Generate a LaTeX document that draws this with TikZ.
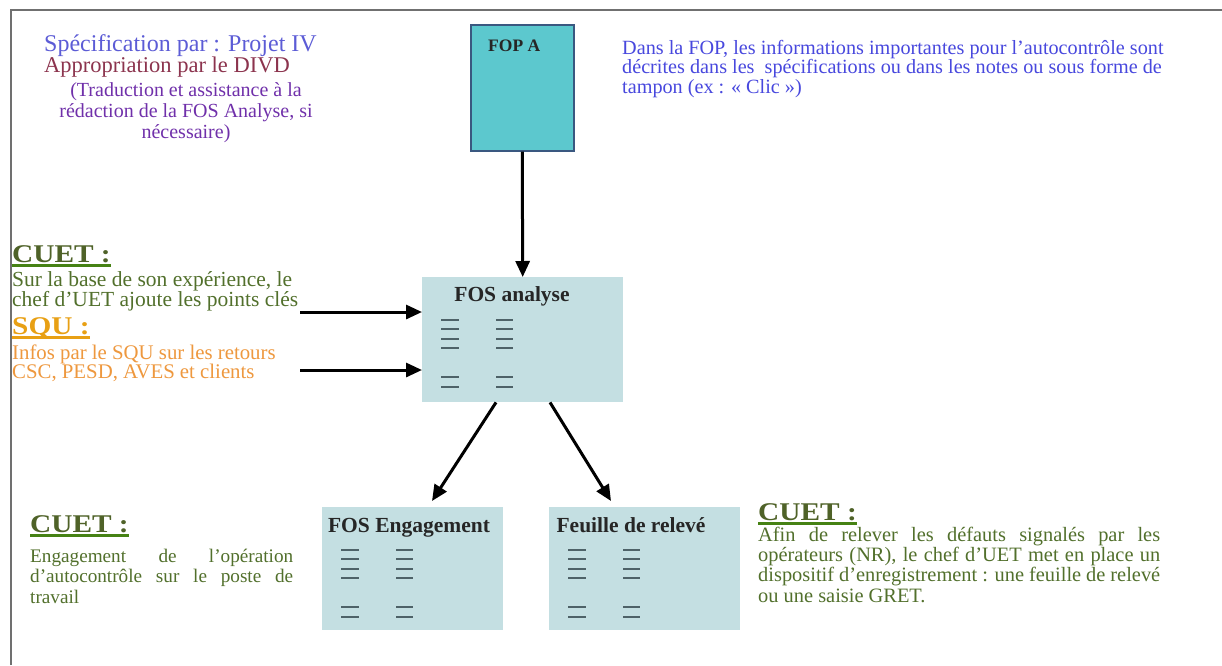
\documentclass[tikz,border=0pt]{standalone}
\usepackage{fontspec}
\setmainfont{Liberation Serif}
\newfontfamily\headfont{Liberation Serif}[FakeStretch=1.15]
\usetikzlibrary{arrows.meta,calc}

\definecolor{specblue}{RGB}{92,92,214}
\definecolor{approred}{RGB}{140,52,78}
\definecolor{noteviolet}{RGB}{112,48,170}
\definecolor{fopblue}{RGB}{72,72,222}
\definecolor{cuetgreen}{RGB}{79,98,40}
\definecolor{cuetline}{RGB}{70,130,20}
\definecolor{cuettext}{RGB}{82,112,44}
\definecolor{squhead}{RGB}{232,160,20}
\definecolor{squtext}{RGB}{238,152,62}
\definecolor{fopfill}{RGB}{92,200,206}
\definecolor{fopedge}{RGB}{58,88,128}
\definecolor{fosfill}{RGB}{196,223,226}
\definecolor{dashcol}{RGB}{78,98,104}
\definecolor{framecol}{RGB}{112,112,112}

% heading with a thick coloured rule beneath it
\newcommand\headrule[3]{\leavevmode\setbox0=\hbox{\color{#2}#3}%
  \rlap{\color{#1}\rule[-4.5pt]{\wd0}{3pt}}\box0}
% one fully justified line of a given width
\newcommand\jline[2]{\hbox to #1{#2}}

\tikzset{
  txt/.style={inner sep=0pt, anchor=base west},
  head/.style={txt, font=\headfont\fontsize{25.5}{28}\selectfont\bfseries},
  sheet/.style={fill=fosfill, draw=none, anchor=north west, inner sep=0pt},
  sheettitle/.style={inner sep=0pt, anchor=base, font=\fontsize{21.5}{24}\selectfont\bfseries, text=black!85},
  flow/.style={line width=3pt, -{Triangle[length=16pt,width=14pt]}},
  rowmark/.style={line width=2pt, dashcol},
}

% the little text marks inside a sheet
\newcommand\sheetmarks[1]{%
  \foreach \r in {43,52,62,71,100,110}{
    \draw[rowmark] ($(#1.north west)+(19,\r)$) -- ($(#1.north west)+(37,\r)$);
    \draw[rowmark] ($(#1.north west)+(74,\r)$) -- ($(#1.north west)+(91,\r)$);
  }}

\begin{document}
\begin{tikzpicture}[x=1pt,y=-1pt]
\useasboundingbox (0,0) rectangle (1222,665);
\fill[white] (0,0) rectangle (1222,665);

% outer frame (left and top edges)
\draw[framecol, line width=2.6pt] (11,665) -- (11,10) -- (1222,10);

% specification block
\node[txt, text=specblue, font=\fontsize{24}{26}\selectfont] (spec) at (44,51) {Spécification par : Projet IV};
\node[txt, text=approred, font=\fontsize{22.5}{26}\selectfont] (appro) at (44,72) {Appropriation par le DIVD};
\node[txt, anchor=base, text=noteviolet, font=\fontsize{20}{21}\selectfont] (note) at (186,96)
  {\parbox[t]{300pt}{\centering (Traduction et assistance à la\\ rédaction de la FOS Analyse, si\\ nécessaire)}};

% FOP A
\node[draw=fopedge, line width=1.5pt, fill=fopfill, anchor=north west, minimum width=103pt, minimum height=126pt, inner sep=0pt] (fop) at (470,24) {};
\node[txt, font=\fontsize{17.5}{20}\selectfont\bfseries, text=black!85] (foptitle) at (488,51) {FOP A};
\node[txt, text=fopblue, font=\fontsize{20.2}{19.7}\selectfont] (fopnote) at (622,54)
  {\parbox[t]{600pt}{\raggedright Dans la FOP, les informations importantes pour l'autocontrôle sont\\ décrites dans les~ spécifications ou dans les notes ou sous forme de\\ tampon (ex : « Clic »)}};

% FOS analyse
\node[sheet, minimum width=201pt, minimum height=125pt] (fos) at (422,277) {};
\node[sheettitle] (fostitle) at (512,301) {FOS analyse};
\sheetmarks{fos}

% CUET input
\node[head] (cuet1) at (12,262) {\headrule{cuetline}{cuetgreen}{CUET :}};
\node[txt, text=cuettext, font=\fontsize{21.5}{20}\selectfont] (cuet1t) at (12,286)
  {\parbox[t]{320pt}{\raggedright Sur la base de son expérience, le\\ chef d'UET ajoute les points clés}};

% SQU input
\node[head] (squ) at (12,334) {\headrule{squhead}{squhead}{SQU :}};
\node[txt, text=squtext, font=\fontsize{20.8}{19.5}\selectfont] (squt) at (12,359)
  {\parbox[t]{320pt}{\raggedright Infos par le SQU sur les retours\\ CSC, PESD, AVES et clients}};

\coordinate (in1) at (300,312);
\coordinate (in2) at (300,370);
\draw[flow] (in1) -- (in1 -| fos.west);
\draw[flow] (in2) -- (in2 -| fos.west);

% output sheets
\node[sheet, minimum width=181pt, minimum height=123pt] (eng) at (322,507) {};
\node[sheettitle] (engtitle) at (409,532) {FOS Engagement};
\sheetmarks{eng}

\node[sheet, minimum width=191pt, minimum height=123pt] (rel) at (549,507) {};
\node[sheettitle] (reltitle) at (631,532) {Feuille de relevé};
\sheetmarks{rel}

% flow arrows
\draw[flow] (fop.south) -- (fos.north);
\draw[flow] ($(fos.south west)+(74,0)$) -- ($(eng.north west)+(110,-6)$);
\draw[flow] ($(fos.south west)+(128,0)$) -- ($(rel.north west)+(62,-6)$);

% CUET: engagement
\node[head] (cuet2) at (30,532) {\headrule{cuetline}{cuetgreen}{CUET :}};
\node[txt, text=cuettext, font=\fontsize{19.2}{20.5}\selectfont] (cuet2t) at (30,562)
  {\parbox[t]{263pt}{\jline{263pt}{Engagement de l'opération}%
   \jline{263pt}{d'autocontrôle sur le poste de}%
   \hbox{travail}}};

% CUET: record sheet
\node[head] (cuet3) at (758,520) {\headrule{cuetline}{cuetgreen}{CUET :}};
\node[txt, text=cuettext, font=\fontsize{20.4}{20.4}\selectfont] (cuet3t) at (758,541)
  {\parbox[t]{402pt}{\jline{402pt}{Afin de relever les défauts signalés par les}%
   \jline{402pt}{opérateurs (NR), le chef d'UET met en place un}%
   \jline{402pt}{dispositif d'enregistrement : une feuille de relevé}%
   \hbox{ou une saisie GRET.}}};
\end{tikzpicture}
\end{document}
